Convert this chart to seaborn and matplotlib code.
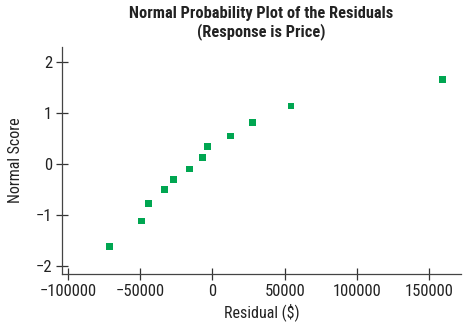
import matplotlib
matplotlib.use("Agg")
import matplotlib.pyplot as plt
import seaborn as sns
import pandas as pd

residuals = [-71000, -48800, -44100, -33300, -26900, -15900, -6700, -3400, 12400, 27600, 54300, 159100]
normal_scores = [-1.62, -1.12, -0.78, -0.51, -0.31, -0.10, 0.13, 0.34, 0.55, 0.82, 1.14, 1.66]
x_ticks = [-100000, -50000, 0, 50000, 100000, 150000]
y_ticks = [-2, -1, 0, 1, 2]

sns.set_theme(style="white")
plt.rcParams['font.family'] = ['Roboto Condensed', 'DejaVu Sans']

df = pd.DataFrame({"Residual": residuals, "Score": normal_scores})

fig = plt.figure(figsize=(4.63, 3.26), dpi=100)
ax = fig.add_axes([0.134, 0.16, 0.862, 0.696])
sns.scatterplot(data=df, x="Residual", y="Score", marker="s", s=24,
                color="#00a651", edgecolor="none", ax=ax)

ax.set_xlim(-104000, 172000)
ax.set_ylim(-2.16, 2.3)
ax.set_xticks(x_ticks)
ax.set_xticklabels(["\u2212100000", "\u221250000", "0", "50000", "100000", "150000"])
ax.set_yticks(y_ticks)
ax.set_yticklabels(["\u22122", "\u22121", "0", "1", "2"])
ax.tick_params(direction="inout", length=8, width=0.9, color="#333333",
               labelsize=12, labelcolor="#222222", bottom=True, left=True, pad=3)
for s in ["top", "right"]:
    ax.spines[s].set_visible(False)
for s in ["left", "bottom"]:
    ax.spines[s].set_color("#444444")
    ax.spines[s].set_linewidth(0.9)

ax.set_xlabel("Residual ($)", fontsize=11.5, color="#222222", labelpad=3)
ax.set_ylabel("Normal Score", fontsize=11.5, color="#222222", labelpad=9)
ax.set_title("Normal Probability Plot of the Residuals\n(Response is Price)",
             fontsize=11.8, fontweight="bold", color="#222222", pad=8, linespacing=1.1)

fig.savefig("out.png", dpi=100)
